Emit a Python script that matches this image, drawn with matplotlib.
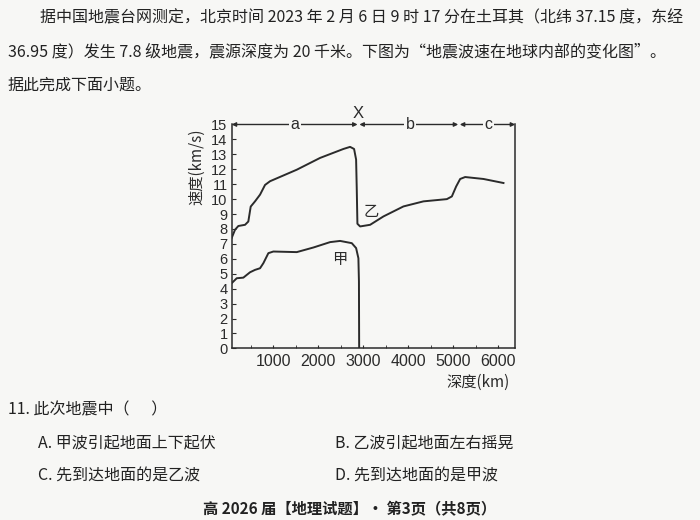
import matplotlib
matplotlib.use("Agg")
import matplotlib.pyplot as plt
from matplotlib.ticker import MultipleLocator

# 乙 wave (P) and 甲 wave (S): depth km, speed km/s
yi_depth = [73, 147, 221, 370, 443, 496, 592, 704, 815, 927, 1521, 2040, 2559, 2708,
            2797, 2842, 2857, 2871, 2931, 3154, 3450, 3895, 4341, 4862, 4973, 5069,
            5158, 5269, 5677, 6122]
yi_speed = [7.4, 7.95, 8.2, 8.28, 8.5, 9.5, 9.85, 10.3, 10.95, 11.2, 11.97, 12.76, 13.36, 13.5,
            13.36, 12.65, 10.6, 8.35, 8.17, 8.28, 8.84, 9.51, 9.85, 10.0, 10.18, 10.85,
            11.35, 11.48, 11.35, 11.08]

jia_depth = [73, 185, 332, 481, 592, 704, 778, 889, 1000, 1521, 1892, 2263, 2486, 2746,
             2842, 2893, 2905, 2910]
jia_speed = [4.37, 4.7, 4.74, 5.1, 5.26, 5.37, 5.71, 6.38, 6.49, 6.45, 6.76, 7.12, 7.2, 7.05,
             6.72, 6.04, 4.5, 0]

# layer ranges marked along the top
layers = ["a", "b", "c"]
layer_start = [73, 2915, 5150]
layer_end = [2875, 5115, 6383]
layer_label_x = [1483, 4045, 5788]

y_ticks = list(range(0, 16))
x_ticks = [1000, 2000, 3000, 4000, 5000, 6000]

ink = "#2b2b2b"
latin = ["Liberation Sans", "Noto Sans CJK SC"]
cjk = ["Noto Sans CJK SC", "DejaVu Sans"]

fig = plt.figure(figsize=(7, 5.2), dpi=100, facecolor="#f7f7f5")
ax = fig.add_axes([0.331, 0.330, 0.405, 0.4306])
ax.set_facecolor("#f7f7f5")

ax.plot(yi_depth, yi_speed, color=ink, lw=1.4)
ax.plot(jia_depth, jia_speed, color=ink, lw=1.4)
ax.text(3170, 9.2, "乙", fontsize=11, family=cjk, color=ink, ha="center", va="center")
ax.text(2486, 5.93, "甲", fontsize=11, family=cjk, color=ink, ha="center", va="center")

ax.set_xlim(73, 6383)
ax.set_ylim(0, 15)
ax.set_yticks(y_ticks)
ax.set_xticks(x_ticks)
ax.xaxis.set_minor_locator(MultipleLocator(500))
ax.tick_params(axis="y", direction="in", length=3, pad=3, labelsize=10.5, colors=ink)
ax.tick_params(axis="x", which="both", direction="in", length=2.5, pad=4, labelsize=11.5, colors=ink)
for lab in ax.get_xticklabels() + ax.get_yticklabels():
    lab.set_family(latin)
ax.spines["top"].set_visible(False)
for s in ["left", "right", "bottom"]:
    ax.spines[s].set_color(ink)
    ax.spines[s].set_linewidth(1.1)

# arrows along the top edge
for name, x0, x1, xl in zip(layers, layer_start, layer_end, layer_label_x):
    ax.annotate("", xy=(x1, 15), xytext=(x0, 15), annotation_clip=False,
                arrowprops=dict(arrowstyle="<|-|>", lw=1.0, color=ink, shrinkA=0, shrinkB=0,
                                mutation_scale=6))
    ax.text(xl, 15, name, fontsize=11.5, family=latin, color=ink, ha="center", va="center",
            bbox=dict(boxstyle="square,pad=0.1", fc="#f7f7f5", ec="none"))
ax.text(2890, 15.75, "X", fontsize=12, family=latin, color=ink, ha="center", va="center")

ax.set_ylabel("速度(km/s)", fontsize=11, family=cjk, color=ink, labelpad=2)
ax.yaxis.set_label_coords(-0.092, 0.81)
ax.set_xlabel("深度(km)", fontsize=11, family=cjk, color=ink)
ax.xaxis.set_label_coords(0.87, -0.112)

# surrounding exam page text
def page_text(x, y, s, size=11.5, ha="left", weight="normal"):
    fig.text(x / 700, 1 - y / 520, s, fontsize=size, family=cjk, color="#222222",
             ha=ha, va="center", weight=weight)

page_text(40, 18, "据中国地震台网测定，北京时间 2023 年 2 月 6 日 9 时 17 分在土耳其（北纬 37.15 度，东经")
page_text(8, 52, "36.95 度）发生 7.8 级地震，震源深度为 20 千米。下图为“地震波速在地球内部的变化图”。")
page_text(8, 85, "据此完成下面小题。")
page_text(8, 410, "11. 此次地震中（      ）")
page_text(38, 443, "A. 甲波引起地面上下起伏")
page_text(335, 443, "B. 乙波引起地面左右摇晃")
page_text(38, 476, "C. 先到达地面的是乙波")
page_text(335, 476, "D. 先到达地面的是甲波")
page_text(350, 509, "高 2026 届【地理试题】· 第3页（共8页）", size=11, ha="center", weight="bold")

fig.savefig("out.png", dpi=100, facecolor=fig.get_facecolor())
